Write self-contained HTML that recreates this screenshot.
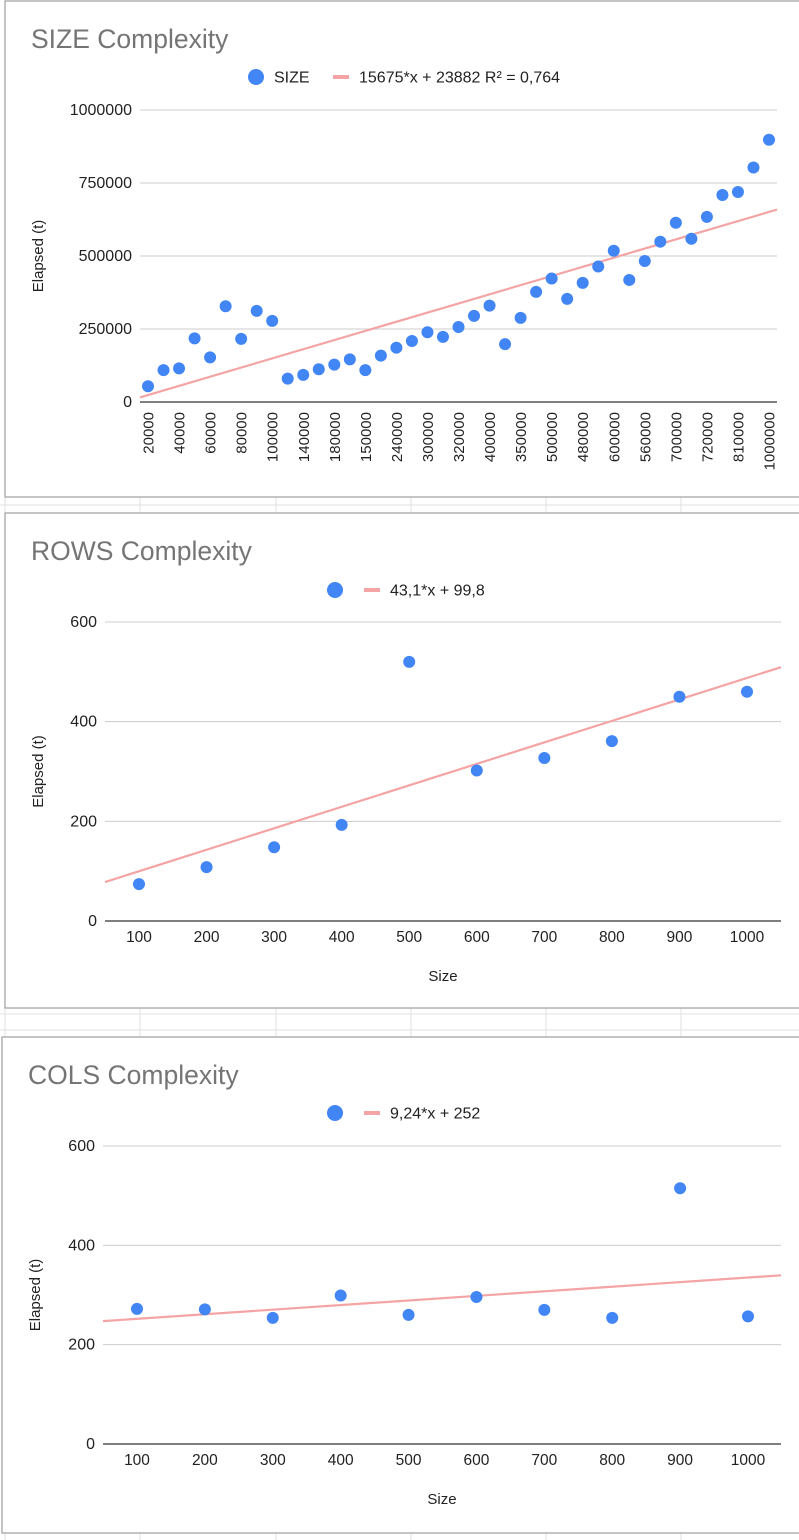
<!DOCTYPE html>
<html><head><meta charset="utf-8"><style>
body{margin:0;background:#fff;width:799px;height:1540px;overflow:hidden;font-family:"Liberation Sans",Arial,sans-serif}
svg{position:absolute;left:0;top:0}
</style></head><body>
<svg id="s" width="799" height="1540" xmlns="http://www.w3.org/2000/svg"></svg>
<script>
// SIZE chart data
const sizeLabels=["20000","40000","60000","80000","100000","140000","180000","150000","240000","300000","320000","400000","350000","500000","480000","600000","560000","700000","720000","810000","1000000"];
const sizeValues=[54000,109000,115000,218000,153000,328000,216000,312000,278000,80000,93000,112000,128000,146000,109000,159000,186000,209000,239000,223000,257000,295000,330000,198000,288000,377000,423000,353000,408000,464000,518000,418000,483000,549000,614000,559000,634000,709000,719000,803000,898000];
const sizeTicks=[0,250000,500000,750000,1000000];
const sizeTrend=[15675,23882];
// ROWS chart data
const rowsCats=[100,200,300,400,500,600,700,800,900,1000];
const rowsValues=[74,108,148,193,520,302,327,361,450,460];
const rowsTicks=[0,200,400,600];
const rowsTrend=[43.1,99.8];
// COLS chart data
const colsCats=[100,200,300,400,500,600,700,800,900,1000];
const colsValues=[272,271,254,299,260,296,270,254,515,257];
const colsTicks=[0,200,400,600];
const colsTrend=[9.24,252];

const S=document.getElementById('s');const NS='http://www.w3.org/2000/svg';
function el(t,a,txt){const e=document.createElementNS(NS,t);for(const k in a)e.setAttribute(k,a[k]);if(txt!==undefined)e.textContent=txt;S.appendChild(e);return e;}

[5,140,276,411,546,681].forEach(x=>{const l=el('line',{x1:x,y1:0,x2:x,y2:1540,stroke:'#e2e2e2','stroke-width':1});

});
[505,1014,1030].forEach(y=>{const l=el('line',{x1:0,y1:y,x2:799,y2:y,stroke:'#e2e2e2','stroke-width':1});

});

function chart(o){
  const g=el('rect',{x:o.bx,y:o.by,width:800-o.bx,height:o.bh,fill:'#fff',stroke:'#9e9e9e','stroke-width':1.2});
  
  
  const t=el('text',{x:o.tx,y:o.ty,'font-size':26.5,fill:'#757575'},o.title);
  
  
  const ys=v=>o.y0-(v-0)/o.ymax*(o.y0-o.y1);
  const n=o.values.length;
  const xs=i=>o.xa+(i)*(o.xb-o.xa)/(n-1);
  o.ticks.forEach(v=>{
    const gl=el('line',{x1:o.px0,x2:o.px1,y1:ys(v),y2:ys(v),stroke:v===0?'#333':'#ccc','stroke-width':v===0?1.3:1});
    
    
    const tl=el('text',{x:o.px0-8,y:ys(v)+5,'font-size':16,fill:'#222','text-anchor':'end'},String(v));
    
    
  });
  const yt=el('text',{x:0,y:0,'font-size':15,fill:'#222','text-anchor':'middle',transform:`translate(${o.bx+38},${(o.y0+o.y1)/2}) rotate(-90)`},'Elapsed (t)');
  
  
  if(o.rot){
    o.labels.forEach((lab,j)=>{const x=xs(j*2);
      const tl=el('text',{x:0,y:0,'font-size':15,fill:'#222','text-anchor':'end',transform:`translate(${x+5.5},${o.y0+10}) rotate(-90)`},lab);
      
      });
  } else {
    o.labels.forEach((lab,j)=>{const tl=el('text',{x:xs(j),y:o.y0+21,'font-size':15.5,fill:'#222','text-anchor':'middle'},String(lab));
      
      });
    const xt=el('text',{x:(o.px0+o.px1)/2,y:o.y0+60,'font-size':15,fill:'#222','text-anchor':'middle'},'Size');
    
    
  }
  const step=(o.xb-o.xa)/(n-1);
  const ia=(o.px0-o.xa)/step, ib=(o.px1-o.xa)/step;
  const tr=el('line',{x1:o.px0,y1:ys(o.trend[0]*ia+o.trend[1]),x2:o.px1,y2:ys(o.trend[0]*ib+o.trend[1]),stroke:'#f4a4a4','stroke-width':2.2});
  
  
  o.values.forEach((v,i)=>{const c=el('circle',{cx:xs(i),cy:ys(v),r:6,fill:'#4285f4'});
    
    });
  const ld=el('circle',{cx:o.lx,cy:o.ly,r:8,fill:'#4285f4'});
  
  
  if(o.lname){const ln=el('text',{x:o.lx+18,y:o.ly+5.5,'font-size':16,fill:'#222'},o.lname);
    
    }
  const ll=el('line',{x1:o.llx,x2:o.llx+16,y1:o.ly,y2:o.ly,stroke:'#f4a4a4','stroke-width':4});
  
  
  const lt=el('text',{x:o.llx+26,y:o.ly+5.5,'font-size':16,fill:'#222'},o.ltext);
  
  
}
chart({name:'size',bx:5,by:1,bh:496,tx:31,ty:48,title:'SIZE Complexity',values:sizeValues,labels:sizeLabels,ticks:sizeTicks,trend:sizeTrend,
  y0:402,y1:110,ymax:1000000,xa:148,xb:769,px0:140,px1:777,rot:true,lx:256,ly:77,lname:'SIZE',llx:333,ltext:'15675*x + 23882 R² = 0,764'});
chart({name:'rows',bx:5,by:513,bh:495,tx:31,ty:560,title:'ROWS Complexity',values:rowsValues,labels:rowsCats,ticks:rowsTicks,trend:rowsTrend,
  y0:921,y1:622,ymax:600,xa:139,xb:747,px0:105,px1:781,rot:false,lx:335,ly:590,llx:364,ltext:'43,1*x + 99,8'});
chart({name:'cols',bx:2,by:1037,bh:496,tx:28,ty:1084,title:'COLS Complexity',values:colsValues,labels:colsCats,ticks:colsTicks,trend:colsTrend,
  y0:1444,y1:1146,ymax:600,xa:137,xb:748,px0:103,px1:781,rot:false,lx:335,ly:1113,llx:364,ltext:'9,24*x + 252'});
</script>
</body></html>
